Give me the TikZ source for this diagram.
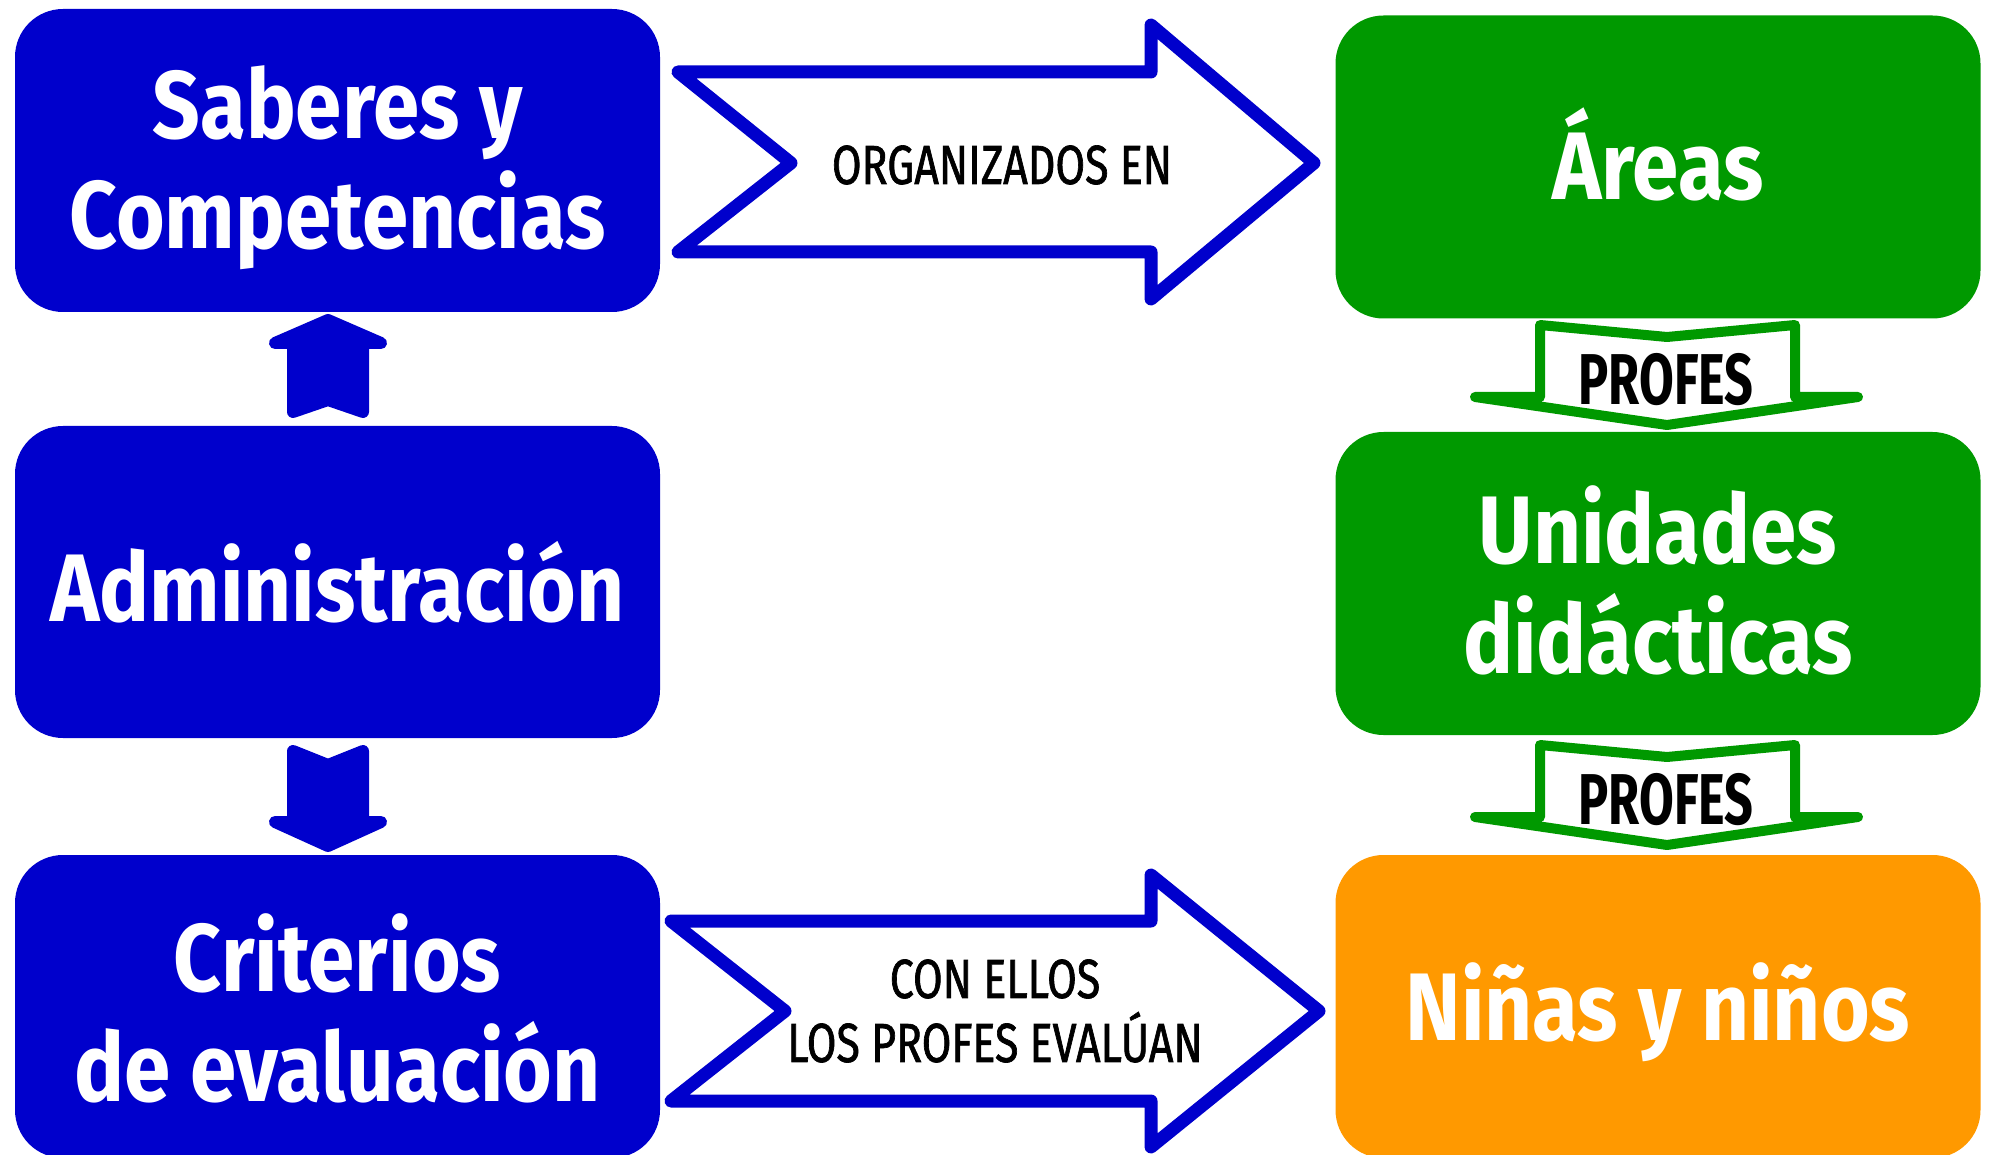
\documentclass[tikz,border=0pt]{standalone}
\usepackage{fontspec}
\setmainfont{Fira Sans}
\newfontfamily\titlef{Fira Sans}[FakeStretch=0.87]
\newfontfamily\labelf{Fira Sans}[FakeStretch=0.78,FakeBold=1.2]
\newfontfamily\proff{Fira Sans}[FakeStretch=0.70]
\definecolor{bl}{RGB}{0,0,204}
\definecolor{gr}{RGB}{0,153,0}
\definecolor{orng}{RGB}{255,153,0}
\begin{document}
\begin{tikzpicture}[x=0.5pt,y=-0.5pt,
  box/.style={rounded corners=24pt, minimum width=322.5pt, minimum height=151.5pt,
    inner sep=0pt},
  boxtext/.style={inner sep=0pt, text=white, align=center,
    font=\titlef\bfseries\fontsize{48}{55}\selectfont},
  chev/.style={draw=bl, line width=6.5pt, fill=white, line join=round},
  solidarrow/.style={draw=bl, fill=bl, line width=6pt, line join=round},
  proarrow/.style={draw=gr, fill=white, line width=5pt, line join=round, line cap=round},
  lab/.style={inner sep=0pt, text=black, align=center,
    font=\labelf\fontsize{27.5}{32}\selectfont},
  prolab/.style={inner sep=0pt, text=black,
    font=\proff\bfseries\fontsize{36}{40}\selectfont}]
\useasboundingbox (0,0) rectangle (1994,1155);
\clip (0,0) rectangle (1994,1155);
\fill[white] (0,0) rectangle (1994,1155);

% boxes
\node[box, fill=bl] (sab) at (337.5,160.5) {};
\node[box, fill=bl, minimum height=156pt] (adm) at (337.5,582) {};
\node[box, fill=bl] (cri) at (337.5,1006.5) {};
\node[box, fill=gr] (are) at (1658,167) {};
\node[box, fill=gr] (uni) at (1658,583.5) {};
\node[box, fill=orng] (nin) at (1658,1006.5) {};

\node[boxtext] (sabt) at (337.5,168) {Saberes y\\Competencias};
\node[boxtext] (admt) at (337.5,582) {Administración};
\node[boxtext] (crit) at (337.5,1008) {Criterios\\de evaluación};
\node[boxtext] (aret) at (1658,154) {Áreas};
\node[boxtext] (unit) at (1658,580) {Unidades\\didácticas};
\node[boxtext] (nint) at (1658,1012) {Niñas y niños};

% big outlined arrows
\draw[chev] (678,72) -- (1151,72) -- (1151,25) -- (1314,163) -- (1151,299)
  -- (1151,252) -- (678,252) -- (791,163) -- cycle;
\node[lab] (org) at (1002,165) {ORGANIZADOS EN};

\draw[chev] (671,921) -- (1151,921) -- (1151,875) -- (1319,1011) -- (1151,1147)
  -- (1151,1101) -- (671,1101) -- (785,1011) -- cycle;
\node[lab] (con) at (995,1011) {CON ELLOS\\LOS PROFES EVALÚAN};

% small solid arrows
\draw[solidarrow] (328,320) -- (381,343) -- (363,343) -- (363,412) -- (328,400)
  -- (293,412) -- (293,343) -- (275,343) -- cycle;
\draw[solidarrow] (293,751) -- (328,765) -- (363,751) -- (363,822) -- (381,822)
  -- (328,846) -- (275,822) -- (293,822) -- cycle;

% PROFES arrows
\draw[proarrow] (1540,325) -- (1667,337) -- (1795,325) -- (1795,397) -- (1858,397)
  -- (1667,425) -- (1475,397) -- (1540,397) -- cycle;
\node[prolab] (p1) at (1666,380) {PROFES};
\draw[proarrow] (1540,745) -- (1667,757) -- (1795,745) -- (1795,817) -- (1858,817)
  -- (1667,845) -- (1475,817) -- (1540,817) -- cycle;
\node[prolab] (p2) at (1666,800) {PROFES};
\end{tikzpicture}
\end{document}
